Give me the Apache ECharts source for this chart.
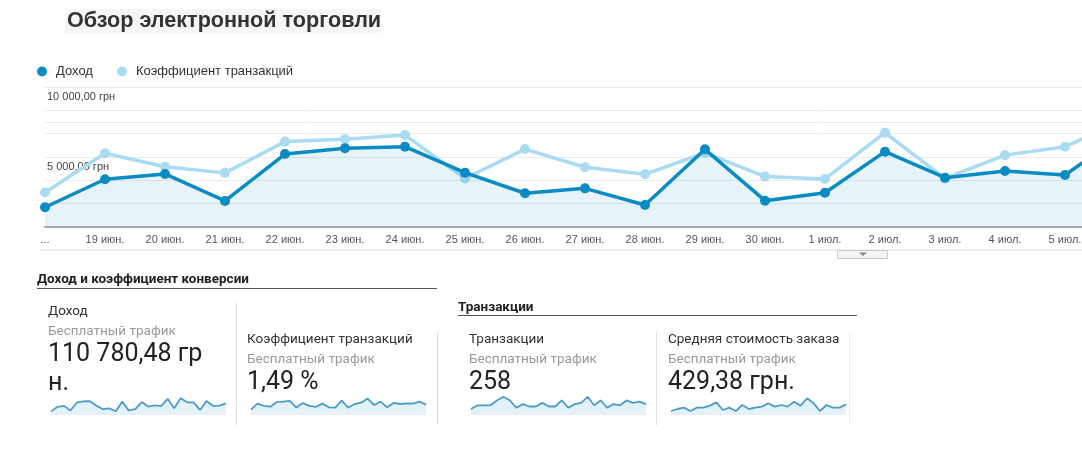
<!DOCTYPE html>
<html lang="ru">
<head>
<meta charset="utf-8">
<title>Обзор электронной торговли</title>
<script src="https://cdn.jsdelivr.net/npm/echarts@6/dist/echarts.min.js"></script>
<style>
  html, body { margin: 0; padding: 0; background: #fff; }
  #chart { width: 1082px; height: 455px; }
</style>
</head>
<body>
<div id="chart"></div>
<script>
// 18 июн. – 15 июл., the first label is cut to "..." in the report
const dayLabels = [
  '...', '19 июн.', '20 июн.', '21 июн.', '22 июн.', '23 июн.', '24 июн.',
  '25 июн.', '26 июн.', '27 июн.', '28 июн.', '29 июн.', '30 июн.', '1 июл.',
  '2 июл.', '3 июл.', '4 июл.', '5 июл.', '6 июл.', '7 июл.', '8 июл.',
  '9 июл.', '10 июл.', '11 июл.', '12 июл.', '13 июл.', '14 июл.', '15 июл.'
];
const revenue = [
  1410, 3410, 3790, 1860, 5210, 5620, 5740, 3880, 2410, 2760, 1570, 5550, 1880, 2450,
  5380, 3520, 4000, 3710, 6700, 2790, 6930, 5270, 5270, 2100, 5820, 3750, 3890, 4860
];
const conversionRate = [
  0.74, 1.58, 1.29, 1.16, 1.83, 1.88, 1.97, 1.04, 1.67, 1.28, 1.13, 1.59, 1.08, 1.03,
  2.02, 1.04, 1.54, 1.72, 2.30, 1.40, 1.88, 1.07, 1.69, 1.54, 1.64, 1.59, 1.88, 1.45
];
const transactions = [
  5, 8, 8, 8, 12, 15, 12, 6, 9, 7, 7, 10, 7, 7,
  12, 6, 9, 10, 15, 8, 12, 6, 9, 8, 12, 10, 11, 9
];
const averageOrderValue = [
  205, 308, 376, 205, 376, 376, 479, 650, 257, 376, 205, 513, 308, 376,
  428, 599, 428, 513, 428, 684, 479, 855, 599, 205, 513, 376, 376, 547
];
const revenueTickLabels = { 5000: '5 000,00 грн', 10000: '10 000,00 грн' };
const seriesNames = ['Доход', 'Коэффициент транзакций'];
const sectionTitles = ['Доход и коэффициент конверсии', 'Транзакции'];
const cardTitles = ['Доход', 'Коэффициент транзакций', 'Транзакции', 'Средняя стоимость заказа'];
const cardSegment = 'Бесплатный трафик';
const cardValues = ['110 780,48 гр\nн.', '1,49 %', '258', '429,38 грн.'];

const darkBlue = '#0a8bc4';
const lightBlue = '#a9dcf2';
const gridColor = '#ebebeb';
const chartFont = 'Liberation Sans';
const cardFont = 'Roboto';

// card layout: text left, sparkline left, text rows, sparkline y max
const cards = [
  { x: 48, spark: 51, titleY: 312, segmentY: 332, valueY: 369, data: revenue, max: 8300 },
  { x: 247, spark: 251, titleY: 340, segmentY: 360, valueY: 383, data: conversionRate, max: 2.8 },
  { x: 469, spark: 471, titleY: 340, segmentY: 360, valueY: 383, data: transactions, max: 16.5 },
  { x: 668, spark: 671, titleY: 340, segmentY: 360, valueY: 383, data: averageOrderValue, max: 1026 }
];

function text(content, x, y, font, fill, extra) {
  return {
    type: 'text', x: x, y: y, silent: true,
    style: Object.assign({ text: content, font: font, fill: fill, verticalAlign: 'middle', align: 'left' }, extra || {})
  };
}
function rule(x1, y1, x2, y2, stroke, width) {
  return { type: 'line', silent: true, shape: { x1, y1, x2, y2 }, style: { stroke: stroke, lineWidth: width || 1 } };
}

const graphics = [
  { type: 'rect', silent: true, shape: { x: 65, y: 9, width: 316, height: 24 }, style: { fill: '#f5f6f8' } },
  text('Обзор электронной торговли', 67, 21, 'bold 21.6px ' + chartFont, '#333'),
  rule(40, 250, 1082, 250, '#dddddd'),
  { type: 'rect', silent: true, shape: { x: 837.5, y: 250.5, width: 50, height: 8 }, style: { fill: '#f4f4f4', stroke: '#cccccc' } },
  { type: 'polygon', silent: true, shape: { points: [[859, 252.5], [867, 252.5], [863, 256]] }, style: { fill: '#888' } },
  text(sectionTitles[0], 37, 280, 'bold 13.5px ' + cardFont, '#222'),
  rule(37, 288.5, 437, 288.5, '#555', 1.2),
  text(sectionTitles[1], 458, 308, 'bold 13.5px ' + cardFont, '#222'),
  rule(458, 315.5, 857, 315.5, '#555', 1.2),
  rule(236.5, 303, 236.5, 425, '#dddddd'),
  rule(437.5, 332, 437.5, 425, '#dddddd'),
  rule(656.5, 332, 656.5, 425, '#dddddd'),
  rule(849.5, 332, 849.5, 425, '#eeeeee')
];
cards.forEach((card, i) => {
  graphics.push(
    text(cardTitles[i], card.x, card.titleY, '13.5px ' + cardFont, '#333'),
    text(cardSegment, card.x, card.segmentY, '13.5px ' + cardFont, '#9a9a9a'),
    text(cardValues[i], card.x, card.valueY, '25px ' + cardFont, '#222', { lineHeight: 29 })
  );
});

const chart = echarts.init(document.getElementById('chart'), null, { renderer: 'canvas' });
chart.setOption({
  animation: false,
  legend: {
    data: seriesNames,
    left: 32,
    top: 60,
    icon: 'circle',
    itemWidth: 18,
    itemHeight: 10,
    itemGap: 24,
    selectedMode: false,
    textStyle: { color: '#333', fontSize: 13, fontFamily: chartFont }
  },
  grid: [
    // the report is cropped on the right, so the plot runs past the canvas
    { left: 45, top: 87, width: 1620, height: 140, outerBoundsMode: 'none' },
    ...cards.map(card => ({ left: card.spark, top: 395, width: 175, height: 20, outerBoundsMode: 'none' }))
  ],
  xAxis: [
    {
      type: 'category',
      gridIndex: 0,
      data: dayLabels,
      boundaryGap: false,
      axisLine: { lineStyle: { color: '#aaaaaa', width: 2 } },
      axisTick: { show: false },
      axisLabel: { interval: 0, color: '#555', fontSize: 11, fontFamily: chartFont, margin: 7 },
      splitLine: { show: false }
    },
    ...cards.map((card, i) => ({
      type: 'category', gridIndex: i + 1, data: dayLabels, boundaryGap: false, show: false
    }))
  ],
  yAxis: [
    {
      type: 'value',
      gridIndex: 0,
      min: 0,
      max: 10000,
      interval: 5000,
      axisLine: { show: false },
      axisTick: { show: false },
      axisLabel: {
        inside: true,
        margin: 2,
        verticalAlign: 'top',
        lineHeight: 20,
        color: '#444',
        fontSize: 11,
        fontFamily: chartFont,
        formatter: value => revenueTickLabels[value] || ''
      },
      splitLine: { lineStyle: { color: gridColor } }
    },
    {
      type: 'value',
      gridIndex: 0,
      position: 'right',
      min: 0,
      max: 3,
      interval: 0.5,
      axisLine: { show: false },
      axisTick: { show: false },
      axisLabel: { show: false },
      splitLine: { lineStyle: { color: gridColor } }
    },
    ...cards.map((card, i) => ({
      type: 'value', gridIndex: i + 1, min: 0, max: card.max, show: false
    }))
  ],
  series: [
    {
      name: seriesNames[1],
      type: 'line',
      xAxisIndex: 0,
      yAxisIndex: 1,
      data: conversionRate,
      symbol: 'circle',
      symbolSize: 10,
      lineStyle: { color: lightBlue, width: 3.5 },
      itemStyle: { color: lightBlue },
      emphasis: { disabled: true },
      z: 2
    },
    {
      name: seriesNames[0],
      type: 'line',
      xAxisIndex: 0,
      yAxisIndex: 0,
      data: revenue,
      symbol: 'circle',
      symbolSize: 10,
      lineStyle: { color: darkBlue, width: 3.5 },
      itemStyle: { color: darkBlue },
      areaStyle: { color: '#058dc7', opacity: 0.1 },
      emphasis: { disabled: true },
      markLine: {
        silent: true,
        symbol: 'none',
        label: { show: false },
        lineStyle: { color: gridColor, type: 'solid', width: 1 },
        data: [{ yAxis: 7500 }]
      },
      z: 3
    },
    ...cards.map((card, i) => ({
      name: cardTitles[i] + ' (тренд)',
      type: 'line',
      xAxisIndex: i + 1,
      yAxisIndex: i + 2,
      data: card.data,
      symbol: 'none',
      silent: true,
      lineStyle: { color: '#4b9ccb', width: 1.8 },
      areaStyle: { color: '#e4f1f9', opacity: 1 }
    }))
  ],
  graphic: graphics
});
</script>
</body>
</html>
